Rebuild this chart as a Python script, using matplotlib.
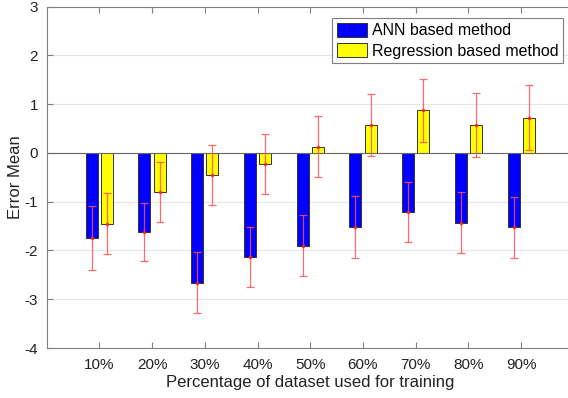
import matplotlib
matplotlib.use("Agg")
import matplotlib.pyplot as plt
import numpy as np

categories = ["10%", "20%", "30%", "40%", "50%", "60%", "70%", "80%", "90%"]
ann_mean = [-1.75, -1.62, -2.66, -2.13, -1.90, -1.52, -1.21, -1.43, -1.53]
reg_mean = [-1.45, -0.80, -0.45, -0.23, 0.13, 0.575, 0.87, 0.575, 0.72]
ann_err = [0.66, 0.60, 0.62, 0.62, 0.62, 0.63, 0.61, 0.62, 0.63]
reg_err = [0.62, 0.62, 0.61, 0.61, 0.63, 0.63, 0.64, 0.65, 0.67]
yticks = [-4, -3, -2, -1, 0, 1, 2, 3]

plt.rcParams['font.family'] = ['Liberation Sans', 'DejaVu Sans']

W, H = 568, 398
fig = plt.figure(figsize=(W / 100, H / 100), dpi=100)
left, right, top, bottom = 46.5, 574, 6.5, 348
ax = fig.add_axes([left / W, 1 - bottom / H, (right - left) / W, (bottom - top) / H])

x = np.arange(1, len(categories) + 1)
bw = 0.23
off = 0.145
ax.bar(x - off, ann_mean, bw, color='#0000ff', edgecolor='#333333', linewidth=0.7,
       label='ANN based method', zorder=2)
ax.bar(x + off, reg_mean, bw, color='#ffff00', edgecolor='#333333', linewidth=0.7,
       label='Regression based method', zorder=2)

for xs, m, e in [(x - off, ann_mean, ann_err), (x + off, reg_mean, reg_err)]:
    ax.errorbar(xs, m, yerr=e, fmt='.', color='#ff2020', ecolor='#ff5050',
                elinewidth=0.9, capsize=3.0, capthick=0.9, markersize=3,
                alpha=0.85, zorder=3)

ax.axhline(0, color='#666666', linewidth=0.8, zorder=2.5)

ax.set_xlim(0, 10)
ax.set_ylim(-4, 3)
ax.set_xticks(x)
ax.set_xticklabels(categories)
ax.set_yticks(yticks)
ax.set_yticklabels([str(v) for v in yticks])
ax.yaxis.grid(True, color='#e6e6e6', linewidth=0.8, zorder=0)
ax.set_axisbelow(True)

for s in ax.spines.values():
    s.set_color('#7f7f7f')
    s.set_linewidth(0.8)
ax.tick_params(direction='in', colors='#7f7f7f', labelcolor='#222222', labelsize=11,
               top=True, right=True, length=4)
ax.tick_params(axis='x', pad=7)
ax.tick_params(axis='y', pad=6)

ax.set_xlabel('Percentage of dataset used for training', fontsize=12, color='#222222', labelpad=2)
ax.set_ylabel('Error Mean', fontsize=12, color='#222222', labelpad=1)

leg = ax.legend(loc='upper right', bbox_to_anchor=(563.3 / W, 1 - 18.3 / H),
                bbox_transform=fig.transFigure, borderaxespad=0, fontsize=11.5,
                fancybox=False, framealpha=1, edgecolor='#7f7f7f',
                handlelength=1.9, handleheight=0.95, handletextpad=0.3,
                borderpad=0.3, labelspacing=0.3)
leg.get_frame().set_linewidth(0.8)

fig.savefig('out.png', dpi=100)
